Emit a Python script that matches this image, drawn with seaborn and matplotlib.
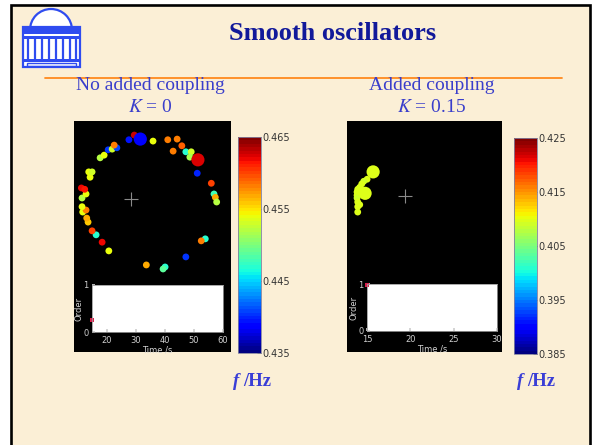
import matplotlib
matplotlib.use("Agg")
import matplotlib.pyplot as plt
from matplotlib import patches
from matplotlib.colors import Normalize
from matplotlib.cm import ScalarMappable
import seaborn as sns

sns.set_theme(style="white")
plt.rcParams["font.family"] = ["DejaVu Sans"]
plt.rcParams["mathtext.fontset"] = "stix"

W, H = 601, 445

# ---- uncoupled oscillators (K = 0): phase-circle positions and frequencies (Hz)
free_u = [-0.22, -0.30, 0.06, 0.28, 0.42, 0.49, 0.36, 0.55, 0.63, 0.61,
          0.72, 0.93, 0.97, 0.99, 1.01, 0.84, 0.78, 0.55, 0.24, 0.21,
          -0.04, -0.60, -0.70, -0.79, -0.85, -0.91, -0.93, -0.99, -0.94, -1.00,
          -1.00, -0.94, -1.01, -0.96, -0.88, -0.90, -0.85, -0.73, -0.67, -0.61,
          -0.55, -0.48, -0.52]
free_v = [1.00, 0.93, 0.91, 0.93, 0.94, 0.84, 0.76, 0.75, 0.75, 0.67,
          0.43, 0.28, 0.12, 0.07, 0.00, -0.55, -0.58, -0.82, -0.97, -1.00,
          -0.94, -0.73, -0.60, -0.49, -0.43, -0.30, -0.24, -0.15, -0.12, -0.07,
          0.06, 0.12, 0.21, 0.19, 0.37, 0.45, 0.45, 0.66, 0.70, 0.78,
          0.79, 0.81, 0.85]
free_f = [0.4630, 0.4395, 0.4540, 0.4580, 0.4580, 0.4590, 0.4580, 0.4470, 0.4530, 0.4515,
          0.4400, 0.4600, 0.4480, 0.4570, 0.4520, 0.4470, 0.4580, 0.4405, 0.4470, 0.4490,
          0.4570, 0.4540, 0.4620, 0.4470, 0.4600, 0.4560, 0.4570, 0.4540, 0.4580, 0.4540,
          0.4520, 0.4540, 0.4620, 0.4615, 0.4540, 0.4540, 0.4530, 0.4520, 0.4540, 0.4405,
          0.4530, 0.4410, 0.4580]
free_big_u = [-0.13, 0.73]
free_big_v = [0.94, 0.63]
free_big_f = [0.4385, 0.4625]
free_centroid = ([-0.27], [0.045])
free_time = [15.0]
free_order = [0.26]
free_range = (0.435, 0.465)
free_cticks = [0.435, 0.445, 0.455, 0.465]
free_xticks = [20, 30, 40, 50, 60]

# ---- coupled oscillators (K = 0.15)
coup_u = [-0.82, -0.87, -0.90, -0.93, -0.96, -0.97, -0.97, -0.97, -0.96, -0.93, -0.96, -0.96]
coup_v = [0.34, 0.31, 0.27, 0.22, 0.19, 0.15, 0.10, 0.06, 0.00, -0.04, -0.07, -0.15]
coup_f = [0.4095, 0.4093, 0.4097, 0.4095, 0.4094, 0.4096, 0.4095, 0.4093, 0.4095, 0.4097, 0.4094, 0.4095]
coup_big_u = [-0.73, -0.85]
coup_big_v = [0.45, 0.13]
coup_big_f = [0.4097, 0.4096]
coup_centroid = ([-0.25], [0.09])
coup_time = [15.0]
coup_order = [0.98]
coup_range = (0.385, 0.425)
coup_cticks = [0.385, 0.395, 0.405, 0.415, 0.425]
coup_xticks = [15, 20, 25, 30]

PARCH = "#FBEFD6"
TITLE_BLUE = "#12199A"
TEXT_BLUE = "#3A3ECB"
LABEL_BLUE = "#3A3ED6"
LOGO_BLUE = "#2F4CF0"
jet = plt.get_cmap("jet", 64)

fig = plt.figure(figsize=(W / 100, H / 100), dpi=100, facecolor="white")


def px_axes(x0, y0, x1, y1, **kw):
    return fig.add_axes([x0 / W, 1 - y1 / H, (x1 - x0) / W, (y1 - y0) / H], **kw)


# slide background
bg = fig.add_axes([0, 0, 1, 1])
bg.set_xlim(0, W)
bg.set_ylim(H, 0)
bg.axis("off")
bg.add_patch(patches.Rectangle((11, 5), 579, 460, facecolor=PARCH,
                               edgecolor="black", lw=1.9))

# rotunda emblem
bg.add_patch(patches.Ellipse((51, 30), 42, 42, facecolor="white",
                             edgecolor=LOGO_BLUE, lw=1.6))
bg.add_patch(patches.Rectangle((23, 27), 57, 40, facecolor="white",
                               edgecolor=LOGO_BLUE, lw=1.6))
bg.add_patch(patches.Rectangle((23, 27), 57, 7, facecolor=LOGO_BLUE, lw=0))
bg.add_patch(patches.Rectangle((23, 36), 57, 2.5, facecolor=LOGO_BLUE, lw=0))
for cx in [28, 35, 42, 49, 56, 63, 70, 76]:
    bg.plot([cx, cx], [39, 59], color=LOGO_BLUE, lw=1.6, solid_capstyle="butt")
bg.add_patch(patches.Rectangle((23, 59), 57, 3, facecolor=LOGO_BLUE, lw=0))
bg.add_patch(patches.Rectangle((27, 63), 49, 3, facecolor="none",
                               edgecolor=LOGO_BLUE, lw=1.0))

# title and rule
bg.text(333, 34, "Smooth oscillators", ha="center", va="center",
        family="Liberation Serif", weight="bold", fontsize=19, color=TITLE_BLUE)
bg.plot([45, 562], [78, 78], color="#FF8A1E", lw=1.3)

# panel headings
bg.text(150, 85, "No added coupling", ha="center", va="center",
        family="Liberation Serif", fontsize=14, color=TEXT_BLUE)
bg.text(150, 107, "$K$ = 0", ha="center", va="center",
        family="Liberation Serif", fontsize=14, color=TEXT_BLUE)
bg.text(432, 85, "Added coupling", ha="center", va="center",
        family="Liberation Serif", fontsize=14, color=TEXT_BLUE)
bg.text(432, 107, "$K$ = 0.15", ha="center", va="center",
        family="Liberation Serif", fontsize=14, color=TEXT_BLUE)

# colour-bar units
for xf in [239, 523]:
    bg.text(xf, 381, "f", ha="right", va="center", family="Liberation Serif",
            weight="bold", style="italic", fontsize=13.5, color=LABEL_BLUE)
    bg.text(xf + 4, 381, "/Hz", ha="left", va="center", family="Liberation Serif",
            weight="bold", fontsize=13.5, color=LABEL_BLUE)


def phase_panel(rect, xlim, u, v, f, bu, bv, bf, centroid, frange):
    ax = px_axes(*rect)
    ax.set_facecolor("black")
    norm = Normalize(*frange)
    sns.scatterplot(x=u, y=v, hue=f, palette=jet, hue_norm=norm, s=24,
                    linewidth=0, legend=False, ax=ax)
    sns.scatterplot(x=bu, y=bv, hue=bf, palette=jet, hue_norm=norm, s=90,
                    linewidth=0, legend=False, ax=ax)
    ax.plot(*centroid, marker="+", color="#8A8A8A", ms=10, mew=0.8)
    ax.set_xlim(*xlim)
    ax.set_ylim(-2.24, 1.21)
    ax.set_xticks([])
    ax.set_yticks([])
    ax.set_xlabel("")
    ax.set_ylabel("")
    for s in ax.spines.values():
        s.set_visible(False)


def order_inset(rect, t, r, xlim, xticks):
    ax = px_axes(*rect)
    ax.set_facecolor("white")
    sns.scatterplot(x=t, y=r, color="#D8204C", marker="s", s=7, linewidth=0,
                    legend=False, ax=ax, clip_on=False)
    ax.set_xlim(*xlim)
    ax.set_ylim(0, 1)
    ax.set_xticks(xticks)
    ax.set_yticks([0, 1])
    ax.tick_params(labelsize=6, colors="#CFCFCF", length=2, direction="in",
                   pad=1.5, bottom=True, left=True)
    ax.tick_params(axis="x", pad=3)
    ax.tick_params(axis="y", pad=2.5)
    ax.set_xlabel("Time /s", fontsize=6, color="#D2D2D2", labelpad=0.5)
    ax.set_ylabel("Order", fontsize=6, color="#D2D2D2", labelpad=0)
    for s in ax.spines.values():
        s.set_color("#9A9A9A")
        s.set_linewidth(0.6)


def colour_bar(rect, frange, ticks):
    cax = px_axes(*rect)
    sm = ScalarMappable(norm=Normalize(*frange), cmap=jet)
    cb = fig.colorbar(sm, cax=cax, ticks=ticks)
    cb.ax.set_yticklabels([f"{t:.3f}" for t in ticks])
    cb.ax.tick_params(labelsize=7, colors="#333333", length=3, direction="in",
                      pad=1, width=0.6)
    cb.outline.set_edgecolor("#8080A0")
    cb.outline.set_linewidth(0.6)


phase_panel((74, 121, 231, 352), (-1.12, 1.224), free_u, free_v, free_f,
            free_big_u, free_big_v, free_big_f, free_centroid, free_range)
order_inset((92, 285, 223, 332), free_time, free_order, (15, 60), free_xticks)
colour_bar((238, 137, 261, 353), free_range, free_cticks)

phase_panel((347, 121, 502, 352), (-1.12, 1.194), coup_u, coup_v, coup_f,
            coup_big_u, coup_big_v, coup_big_f, coup_centroid, coup_range)
order_inset((367, 284, 497, 331), coup_time, coup_order, (15, 30), coup_xticks)
colour_bar((514, 138, 537, 354), coup_range, coup_cticks)

fig.savefig("out.png", dpi=100, facecolor="white")
